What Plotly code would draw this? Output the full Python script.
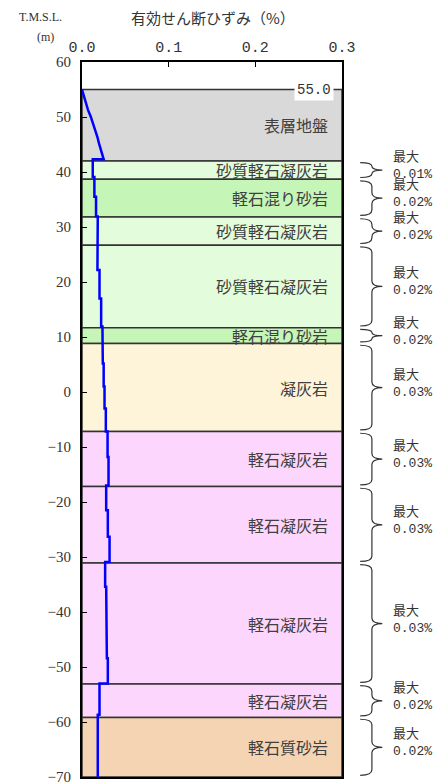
import plotly.graph_objects as go

# strain profile (vertices of the stepped line)
strain = [0.0, 0.0031, 0.0069, 0.0100, 0.0135, 0.0177, 0.0196, 0.0227, 0.0250, 0.0250,
          0.0124, 0.0124, 0.0143, 0.0143, 0.0162, 0.0162, 0.0182, 0.0182, 0.0178, 0.0178,
          0.0202, 0.0202, 0.0221, 0.0221, 0.0236, 0.0236, 0.0240, 0.0240, 0.0250, 0.0250,
          0.0260, 0.0260, 0.0275, 0.0275, 0.0295, 0.0295, 0.0306, 0.0306, 0.0279, 0.0279,
          0.0298, 0.0298, 0.0318, 0.0318, 0.0267, 0.0267, 0.0279, 0.0279, 0.0287, 0.0287,
          0.0298, 0.0298, 0.0202, 0.0202, 0.0182, 0.0182]
elev = [55.0, 53.1, 51.3, 50.1, 48.5, 46.4, 45.2, 43.7, 42.7, 42.3,
        42.3, 39.1, 39.1, 35.5, 35.5, 31.9, 31.9, 26.7, 26.7, 22.2,
        22.2, 17.0, 17.0, 11.9, 11.9, 8.2, 8.2, 5.2, 5.2, 1.0,
        1.0, -3.0, -3.0, -7.2, -7.2, -11.8, -11.8, -17.0, -17.0, -21.5,
        -21.5, -26.3, -26.3, -30.9, -30.9, -35.4, -35.4, -40.9, -40.9, -48.4,
        -48.4, -53.0, -53.0, -58.7, -58.7, -70.0]

layer_names = ["表層地盤", "砂質軽石凝灰岩", "軽石混り砂岩", "砂質軽石凝灰岩", "砂質軽石凝灰岩",
               "軽石混り砂岩", "凝灰岩", "軽石凝灰岩", "軽石凝灰岩", "軽石凝灰岩",
               "軽石凝灰岩", "軽石質砂岩"]
layer_top = [55.0, 42.0, 38.7, 31.8, 26.7, 11.7, 8.8, -7.2, -17.2, -31.1, -53.1, -59.2]
layer_bottom = [42.0, 38.7, 31.8, 26.7, 11.7, 8.8, -7.2, -17.2, -31.1, -53.1, -59.2, -70.0]
layer_colors = ["#d9d9d9", "#e3fcdb", "#c6f5b8", "#e3fcdb", "#e3fcdb", "#c6f5b8",
                "#fef4d9", "#fdd6fd", "#fdd6fd", "#fdd6fd", "#fdd6fd", "#f5d4b3"]
max_labels = ["0.01%", "0.02%", "0.02%", "0.02%", "0.02%", "0.03%",
              "0.03%", "0.03%", "0.03%", "0.02%", "0.02%"]

x_ticks = [0.0, 0.1, 0.2, 0.3]
y_ticks = list(range(-70, 61, 10))

MONO = "Liberation Mono"
SERIF = "Liberation Serif"
JP = "Noto Sans CJK JP"

fig = go.Figure()
fig.add_trace(go.Scatter(x=strain, y=elev, mode="lines",
                         line=dict(color="#0000ff", width=2.5),
                         showlegend=False, hoverinfo="skip"))

shapes = []
annotations = []
for name, top, bot, col in zip(layer_names, layer_top, layer_bottom, layer_colors):
    shapes.append(dict(type="rect", xref="paper", yref="y", x0=0, x1=1, y0=bot, y1=top,
                       fillcolor=col, line=dict(color="#333333", width=1.5), layer="below"))
    annotations.append(dict(x=0.3, y=(top + bot) / 2, xref="x", yref="y", text=name,
                            showarrow=False, xanchor="right", xshift=-12,
                            font=dict(family=JP, size=16, color="#404040")))

# braces with max strain labels
xa, xm, xt = 1.07, 1.115, 1.155
for top, bot, lab in zip(layer_top[1:], layer_bottom[1:], max_labels):
    t = top - 0.3
    b = bot + 0.3
    c = (t + b) / 2
    r = min(1.0, (t - b) / 4)
    path = (f"M {xa},{t} Q {xm},{t} {xm},{t - r} L {xm},{c + r} "
            f"Q {xm},{c} {xt},{c} Q {xm},{c} {xm},{c - r} "
            f"L {xm},{b + r} Q {xm},{b} {xa},{b}")
    shapes.append(dict(type="path", xref="paper", yref="y", path=path,
                       line=dict(color="#333333", width=1.2)))
    annotations.append(dict(x=1.19, y=c, xref="paper", yref="y",
                            text=f"最大<br><span style='font-family:{MONO}'>{lab}</span>",
                            showarrow=False, xanchor="left", yanchor="bottom",
                            yshift=-14, align="left",
                            font=dict(family=JP, size=13, color="#333333")))

annotations.append(dict(x=0.3, y=55.0, xref="x", yref="y", text="55.0", showarrow=False,
                        xanchor="right", xshift=-8, bgcolor="white", borderpad=2,
                        font=dict(family=MONO, size=14, color="#333333")))
annotations.append(dict(x=0.505, y=1.062, xref="paper", yref="paper",
                        text="有効せん断ひずみ（%）", showarrow=False,
                        xanchor="center", yanchor="middle",
                        font=dict(family=JP, size=15, color="#333333")))
annotations.append(dict(x=-0.158, y=1.063, xref="paper", yref="paper", text="T.M.S.L.",
                        showarrow=False, xanchor="center", yanchor="middle",
                        font=dict(family=SERIF, size=12, color="#333333")))
annotations.append(dict(x=-0.142, y=1.035, xref="paper", yref="paper", text="(m)",
                        showarrow=False, xanchor="center", yanchor="middle",
                        font=dict(family=SERIF, size=12, color="#333333")))

# the page body has an 8px margin, so the figure is a bit smaller than the window
fig.update_layout(
    width=437, height=775,
    margin=dict(l=74, r=103, t=54, b=6),
    plot_bgcolor="white", paper_bgcolor="white",
    shapes=shapes, annotations=annotations,
    xaxis=dict(range=[0, 0.3], side="top", tickvals=x_ticks, tickformat=".1f",
               ticks="inside", ticklen=5, tickcolor="black", showgrid=False, zeroline=False,
               showline=True, linecolor="black", linewidth=2, mirror=True,
               automargin=False, ticklabelstandoff=2,
               tickfont=dict(family=MONO, size=15, color="#333333")),
    yaxis=dict(range=[-70, 60], tickvals=y_ticks, ticks="inside", ticklen=5,
               tickcolor="black", showgrid=False, zeroline=False,
               showline=True, linecolor="black", linewidth=2, mirror=True,
               automargin=False, ticklabelstandoff=6, ticklabeloverflow="allow",
               tickfont=dict(family=SERIF, size=15, color="#333333")),
)

fig.write_html("out.html")
